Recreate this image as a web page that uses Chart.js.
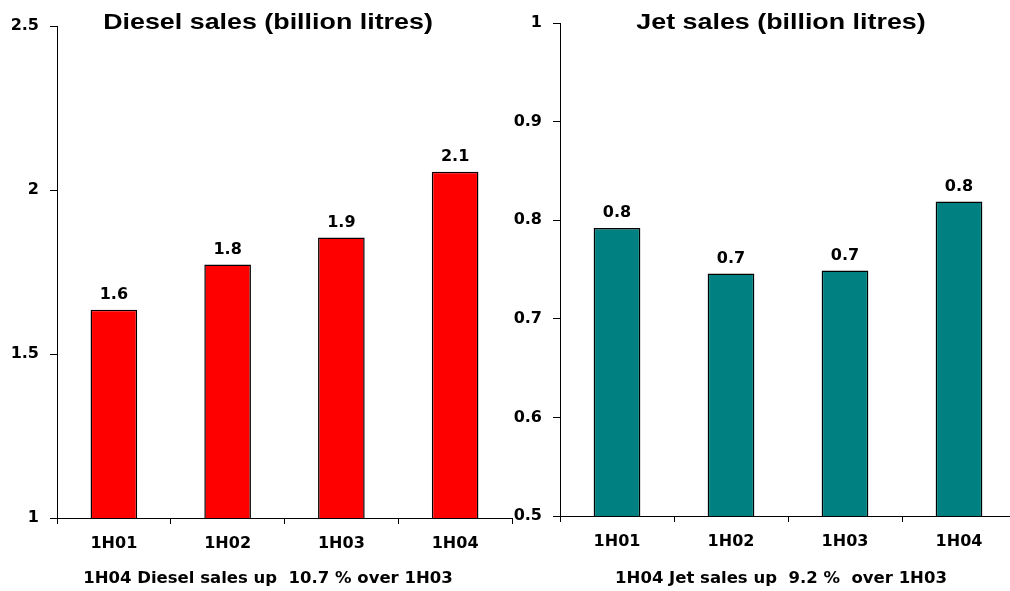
<!DOCTYPE html>
<html>
<head>
<meta charset="utf-8">
<script src="https://cdn.jsdelivr.net/npm/chart.js@4/dist/chart.umd.min.js"></script>
<style>
  html, body { margin: 0; padding: 0; background: #fff; overflow: hidden; width: 1010px; height: 591px; }
  .panel { position: absolute; top: 0; height: 591px; }
  .title, .caption { position: absolute; left: 0; right: 0; text-align: center; white-space: pre; color: #000; }
  .title { top: 9px; font: bold 22px "Liberation Sans", Arial, sans-serif; transform: scaleX(1.22); }
  .caption { top: 568px; font: bold 16.5px "DejaVu Sans", sans-serif; }
  canvas { position: absolute; left: 0; top: 0; }
</style>
</head>
<body>
<div class="panel" id="dieselPanel" style="left:0;width:536px;">
  <canvas id="dieselChart" width="536" height="591"></canvas>
  <div class="title">Diesel sales (billion litres)</div>
  <div class="caption">1H04 Diesel sales up  10.7 % over 1H03</div>
</div>
<div class="panel" id="jetPanel" style="left:510px;width:542px;">
  <canvas id="jetChart" width="542" height="591"></canvas>
  <div class="title">Jet sales (billion litres)</div>
  <div class="caption">1H04 Jet sales up  9.2 %  over 1H03</div>
</div>
<script>
// Half-year periods
const periods = ['1H01', '1H02', '1H03', '1H04'];

// Sales volumes, billion litres
const dieselSales = [1.635, 1.773, 1.855, 2.056];
const jetSales = [0.792, 0.746, 0.749, 0.819];

// Value-axis ranges and tick steps
const dieselAxis = { min: 1, max: 2.5, step: 0.5 };
const jetAxis = { min: 0.5, max: 1, step: 0.1 };

const tickFont = { family: '"DejaVu Sans", sans-serif', weight: 'bold', size: 16 };

// Writes each bar's value (one decimal) just above it
const barValueLabels = {
  id: 'barValueLabels',
  afterDatasetsDraw(chart) {
    const ctx = chart.ctx;
    ctx.save();
    ctx.font = 'bold 16px "DejaVu Sans", sans-serif';
    ctx.fillStyle = '#000';
    ctx.textAlign = 'center';
    ctx.textBaseline = 'bottom';
    chart.data.datasets.forEach((ds, di) => {
      chart.getDatasetMeta(di).data.forEach((bar, i) => {
        ctx.fillText(ds.data[i].toFixed(1), bar.x, bar.y - 7);
      });
    });
    ctx.restore();
  }
};

function makeChart(canvasId, values, color, axis, plotLeft, padRight, padTop, axisHeight) {
  return new Chart(document.getElementById(canvasId), {
    type: 'bar',
    data: {
      labels: periods,
      datasets: [{
        data: values,
        backgroundColor: color,
        borderColor: '#000',
        borderWidth: 1.5,
        borderSkipped: 'bottom',
        barPercentage: 0.41,
        categoryPercentage: 1
      }]
    },
    options: {
      responsive: false,
      animation: false,
      layout: { padding: { left: 0, right: padRight, top: padTop, bottom: 0 } },
      plugins: { legend: { display: false }, tooltip: { enabled: false } },
      scales: {
        x: {
          grid: { display: true, drawOnChartArea: false, drawTicks: true, tickLength: 6, color: '#000', lineWidth: 1 },
          border: { display: true, color: '#000', width: 1 },
          ticks: { font: tickFont, color: '#000', padding: 10, maxRotation: 0 },
          afterFit(scale) { scale.height = axisHeight; }
        },
        y: {
          min: axis.min,
          max: axis.max,
          grid: { display: true, drawOnChartArea: false, drawTicks: true, tickLength: 7, color: '#000', lineWidth: 1 },
          border: { display: true, color: '#000', width: 1 },
          ticks: {
            stepSize: axis.step,
            font: tickFont,
            color: '#000',
            padding: 11,
            callback: v => String(Math.round(v * 10) / 10)
          },
          afterFit(scale) { scale.width = plotLeft; }
        }
      }
    },
    plugins: [barValueLabels]
  });
}

makeChart('dieselChart', dieselSales, '#ff0000', dieselAxis, 57, 24, 26, 73);
makeChart('jetChart', jetSales, '#008080', jetAxis, 50, 36, 23, 75);
</script>
</body>
</html>
